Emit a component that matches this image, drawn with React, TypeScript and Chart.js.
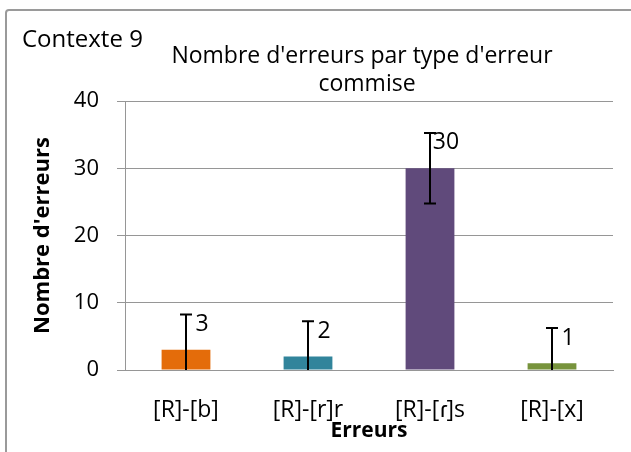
import React, { useEffect, useRef } from "react";
import { Chart, registerables } from "chart.js";

Chart.register(...registerables);

const categories = ["[R]-[b]", "[R]-[r]r", "[R]-[ɾ]s", "[R]-[x]"];
const values = [3, 2, 30, 1];
const errors = [5.25, 5.25, 5.25, 5.25];
const barColors = ["#E46C0A", "#31849B", "#604A7B", "#77933C"];
const titleLines = ["Nombre d'erreurs par type d'erreur", "commise"];
const contextLabel = "Contexte 9";
const yTitle = "Nombre d'erreurs";
const xTitle = "Erreurs";

const FONT = "'Open Sans', Lato, sans-serif";

const errorBarPlugin = {
  id: "errorBars",
  afterDatasetsDraw(chart: any) {
    const { ctx } = chart;
    const meta = chart.getDatasetMeta(0);
    const yScale = chart.scales.y;
    ctx.save();
    meta.data.forEach((bar: any, i: number) => {
      const v = values[i];
      const e = errors[i];
      const x = bar.x;
      const top = yScale.getPixelForValue(v + e);
      const bot = yScale.getPixelForValue(Math.max(v - e, 0));
      ctx.strokeStyle = "#000";
      ctx.lineWidth = 2;
      ctx.beginPath();
      ctx.moveTo(x, top);
      ctx.lineTo(x, bot);
      ctx.moveTo(x - 6, top);
      ctx.lineTo(x + 6, top);
      if (v - e > 0) {
        ctx.moveTo(x - 6, bot);
        ctx.lineTo(x + 6, bot);
      }
      ctx.stroke();
      ctx.fillStyle = "#000";
      ctx.font = `23px ${FONT}`;
      ctx.textAlign = "center";
      ctx.textBaseline = "middle";
      ctx.fillText(String(v), x + 16, top + 10);
    });
    ctx.restore();
  },
};

const textPlugin = {
  id: "customText",
  afterDraw(chart: any) {
    const { ctx } = chart;
    ctx.save();
    ctx.fillStyle = "#000";
    ctx.textBaseline = "middle";
    ctx.textAlign = "left";
    ctx.font = `24px ${FONT}`;
    ctx.fillText(contextLabel, 22, 40);
    ctx.textAlign = "center";
    ctx.font = `500 23px ${FONT}`;
    ctx.fillText(titleLines[0], 362, 56);
    ctx.fillText(titleLines[1], 367, 84);
    ctx.restore();
  },
};

export default function App() {
  const ref = useRef<HTMLCanvasElement | null>(null);
  useEffect(() => {
    if (!ref.current) return;
    const chart = new Chart(ref.current, {
      type: "bar",
      data: {
        labels: categories,
        datasets: [
          {
            data: values,
            backgroundColor: barColors,
            barPercentage: 0.4,
            categoryPercentage: 1,
          },
        ],
      },
      options: {
        animation: false,
        responsive: false,
        layout: { padding: { top: 101, right: 18, left: 0, bottom: 0 } },
        plugins: { legend: { display: false }, tooltip: { enabled: false }, title: { display: false } },
        scales: {
          x: {
            grid: { display: false, drawTicks: false },
            border: { color: "#969696", width: 1 },
            ticks: { color: "#000", font: { family: FONT, size: 23 }, padding: 27, maxRotation: 0 },
            title: {
              display: true,
              text: xTitle,
              color: "#000",
              font: { family: FONT, size: 21, weight: "bold" },
              padding: { top: 0, bottom: 8 },
            },
            afterFit(scale: any) {
              scale.height = 82;
            },
          },
          y: {
            min: 0,
            max: 40,
            ticks: { stepSize: 10, color: "#000", font: { family: FONT, size: 22 }, padding: 18 },
            grid: { color: "#969696", lineWidth: 1, tickLength: 8, drawTicks: true },
            border: { color: "#969696", width: 1 },
            title: {
              display: true,
              text: yTitle,
              color: "#000",
              font: { family: FONT, size: 22, weight: "bold" },
              padding: { top: 30, bottom: 0 },
            },
            afterFit(scale: any) {
              scale.width = 125;
            },
          },
        },
      },
      plugins: [errorBarPlugin, textPlugin],
    } as any);
    return () => chart.destroy();
  }, []);
  return (
    <div style={{ position: "fixed", left: 0, top: 0, width: 631, height: 452, overflow: "hidden", background: "#fff" }}>
      <div
        style={{
          position: "absolute",
          left: 5,
          top: 9,
          width: 700,
          height: 600,
          border: "2px solid #9a9a9a",
          borderRadius: 4,
          boxSizing: "border-box",
        }}
      />
      <canvas ref={ref} width={631} height={452} style={{ position: "absolute", left: 0, top: 0 }} />
    </div>
  );
}
